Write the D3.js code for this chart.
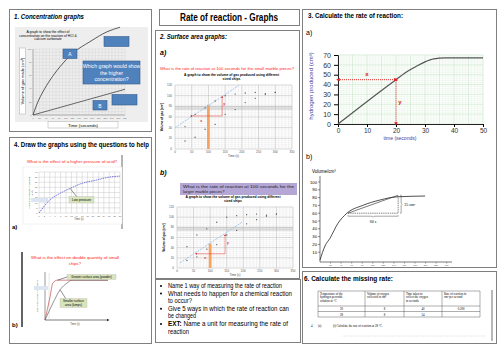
<!DOCTYPE html>
<html>
<head>
<meta charset="utf-8">
<script src="https://cdn.jsdelivr.net/npm/d3@7"></script>
<style>
  html, body { margin: 0; padding: 0; background: #fff; }
  svg { display: block; }
</style>
</head>
<body>
<div id="chart"></div>
<script>
const FONT = "'Liberation Sans', Arial, sans-serif";
const SERIF = "'Liberation Serif', 'Times New Roman', serif";

// 1. concentration graphs
const concTicksX = d3.range(0, 281, 20);
const concTicksY = [0, 20, 40, 60, 80, 100];
const concTimeA = [0, 15, 30, 52, 82, 122, 173, 225, 265];
const concVolA = [0, 20, 35, 53, 73, 94, 111, 126, 133];
const concTimeB = [0, 280];
const concVolB = [0, 39];

// 2. surface area graphs (same data on a and b)
const chipTicksX = [0, 50, 100, 150, 200, 250, 300, 350];
const chipTicksY = [0, 20, 40, 60, 80, 100, 120];
const chipTime = [30, 60, 90, 120, 150, 180, 210, 240, 270, 300];
const smallChips = [42, 65, 77, 90, 100, 103, 105, 106, 104, 106];
const largeChips = [15, 22, 37, 46, 65, 74, 87, 95, 102, 106];
const tangentA = [[0, 40], [193, 120]];
const tangentB = [[9, 10], [196, 90]];
const triA = [[48, 62], [141, 62], [141, 98]];
const triB = [[57, 28], [145, 28], [145, 65]];
const orangeA = 83;
const orangeB = 48;

// 3. rate of reaction
const rateTicksX = [0, 10, 20, 30, 40, 50];
const rateTicksY = [0, 10, 20, 30, 40, 50, 60, 70];
const rateTime = [0, 20, 24, 27, 30, 33, 37, 50];
const rateVol = [0, 45, 53.5, 58.5, 63, 66, 67, 67];
const rateX = 20, rateY = 45;

const volTicksY = [10, 20, 30, 40, 50, 60, 70, 80, 90, 100];
const volTicksX = d3.range(20, 241, 20);
const volTime = [0, 9.5, 19, 34, 51, 81, 114, 146, 199];
const volVol = [0, 18, 28, 47, 60, 70, 77, 81, 82];
const volTangent = [[53, 60], [148, 83]];

// 4. draw the graphs
const pressTicksX = d3.range(0, 31, 2);
const pressTicksY = d3.range(0, 41, 5);
const pressTime = [0, 4, 8, 11.5, 16, 21, 26, 30];
const pressVol = [0, 12.7, 19.5, 24, 29, 32, 35, 36];
const powderTime = [0, 1.6, 2.5, 4, 20];
const powderMass = [0, 4.8, 7.7, 8.3, 8.3];
const lumpsTime = [0, 2.5, 4.8, 7, 8.6, 20];
const lumpsMass = [0, 3.5, 6.3, 7.7, 8.3, 8.3];

// 6. table
const tableHead = [
  ['Temperature of the', 'hydrogen peroxide', 'solution in °C'],
  ['Volume of oxygen', 'collected in cm³'],
  ['Time taken to', 'collect the oxygen', 'in seconds'],
  ['Rate of reaction in', 'cm³ per second'],
];
const tableRows = [
  ['20', '8', '40', '0.200'],
  ['28', '8', '24', ''],
];

const bullets = [
  { t: 'Name 1 way of measuring the rate of reaction', len: 114, b: true },
  { t: 'What needs to happen for a chemical reaction', len: 124, b: true },
  { t: 'to occur?', len: 24 },
  { t: ' Give 5 ways in which the rate of reaction can', len: 121, b: true },
  { t: 'be changed', len: 28 },
  { t: 'Name a unit for measuring the rate of', len: 104, b: true, ext: true },
  { t: 'reaction', len: 21 },
];

const svg = d3.select('#chart').append('svg')
  .attr('width', 500).attr('height', 353)
  .style('font-family', FONT);

svg.append('rect').attr('width', 500).attr('height', 353).attr('fill', '#fff');

const defs = svg.append('defs');
defs.append('marker').attr('id', 'redArrow')
  .attr('viewBox', '0 0 6 6').attr('refX', 3).attr('refY', 3)
  .attr('markerWidth', 4).attr('markerHeight', 4).attr('orient', 'auto-start-reverse')
  .append('path').attr('d', 'M0,0L6,3L0,6Z').attr('fill', '#e02020');
defs.append('marker').attr('id', 'blackArrow')
  .attr('viewBox', '0 0 6 6').attr('refX', 3).attr('refY', 3)
  .attr('markerWidth', 5).attr('markerHeight', 5).attr('orient', 'auto')
  .append('path').attr('d', 'M0,0L6,3L0,6Z').attr('fill', '#222');

function box(g, x, y, w, h, o = {}) {
  return g.append('rect').attr('x', x).attr('y', y).attr('width', w).attr('height', h)
    .attr('fill', o.fill || '#fff')
    .attr('stroke', o.stroke || '#7f7f7f')
    .attr('stroke-width', o.sw == null ? 1 : o.sw);
}

function text(g, x, y, s, o = {}) {
  const t = g.append('text').attr('x', x).attr('y', y)
    .attr('font-size', o.size || 6)
    .attr('font-family', o.family || FONT)
    .attr('font-weight', o.weight || 'normal')
    .attr('font-style', o.italic ? 'italic' : 'normal')
    .attr('fill', o.fill || '#000')
    .attr('text-anchor', o.anchor || 'start')
    .text(s);
  if (o.len) t.attr('textLength', o.len).attr('lengthAdjust', 'spacingAndGlyphs');
  if (o.rotate) t.attr('transform', `rotate(${o.rotate},${x},${y})`);
  return t;
}

function grid(g, x, y, xs, ys, color, sw) {
  const [y0, y1] = y.range();
  const [x0, x1] = x.range();
  g.append('g').selectAll('line').data(xs).join('line')
    .attr('x1', d => x(d)).attr('x2', d => x(d))
    .attr('y1', y0).attr('y2', y1)
    .attr('stroke', color).attr('stroke-width', sw);
  g.append('g').selectAll('line').data(ys).join('line')
    .attr('x1', x0).attr('x2', x1)
    .attr('y1', d => y(d)).attr('y2', d => y(d))
    .attr('stroke', color).attr('stroke-width', sw);
}

// ---------- panel frames ----------
const frames = svg.append('g');
box(frames, 9.5, 9.5, 142, 122);
box(frames, 9.5, 137.5, 142, 206);
box(frames, 159.5, 9.5, 140, 16);
box(frames, 155.5, 30.5, 144, 248);
box(frames, 155.5, 279.5, 145, 63);
box(frames, 302.5, 9.5, 194, 258);
box(frames, 302.5, 271.5, 194, 72);

text(svg, 229, 21, 'Rate of reaction - Graphs', { size: 10, weight: 'bold', anchor: 'middle', len: 98 });

// ---------- 1. concentration ----------
const g1 = svg.append('g');
text(g1, 14, 19, '1. Concentration graphs', { size: 7, weight: 'bold', italic: true, len: 70 });

const c1x = d3.scaleLinear().domain([0, 280]).range([33, 125]);
const c1y = d3.scaleLinear().domain([0, 100]).range([115, 49]);

g1.append('rect').attr('x', 15).attr('y', 27).attr('width', 133).attr('height', 95).attr('fill', '#eeeeee');
grid(g1, c1x, c1y, d3.range(0, 281, 10), d3.range(0, 101, 5), '#d2d2d2', 0.4);
g1.append('line').attr('x1', c1x(0)).attr('x2', c1x(0)).attr('y1', c1y(0)).attr('y2', c1y(100)).attr('stroke', '#777').attr('stroke-width', 0.5);
g1.append('line').attr('x1', c1x(0)).attr('x2', c1x(280)).attr('y1', c1y(0)).attr('y2', c1y(0)).attr('stroke', '#777').attr('stroke-width', 0.5);
g1.append('g').selectAll('text').data(concTicksX).join('text')
  .attr('x', d => c1x(d)).attr('y', c1y(0) + 3.5).attr('text-anchor', 'middle')
  .attr('font-size', 2.2).attr('fill', '#666').text(d => d);
g1.append('g').selectAll('text').data(concTicksY).join('text')
  .attr('x', c1x(0) - 1.5).attr('y', d => c1y(d) + 0.8).attr('text-anchor', 'end')
  .attr('font-size', 2.2).attr('fill', '#666').text(d => d);

['A graph to show the effect of', 'concentration on the reaction of HCl &', 'calcium carbonate']
  .forEach((s, i) => text(g1, 48, 33 + i * 3.6, s, { size: 3.4, anchor: 'middle' }));

const line1 = d3.line().x(d => c1x(d[0])).y(d => c1y(d[1])).curve(d3.curveMonotoneX);
g1.append('path').datum(d3.zip(concTimeA, concVolA)).attr('d', line1)
  .attr('fill', 'none').attr('stroke', '#333').attr('stroke-width', 0.8);
g1.append('path').datum(d3.zip(concTimeB, concVolB)).attr('d', line1)
  .attr('fill', 'none').attr('stroke', '#444').attr('stroke-width', 0.8);

box(g1, 19.5, 48, 6, 66, { stroke: '#aaa', sw: 0.5 });
text(g1, 24, 81, 'Volume of gas made (cm³)', { size: 4, anchor: 'middle', rotate: -90 });
box(g1, 48, 121.5, 70, 6.5, { stroke: '#aaa', sw: 0.5 });
text(g1, 83, 126.8, 'Time (seconds)', { size: 4.4, anchor: 'middle' });

const blue = { fill: '#4f81bd', stroke: '#385d8a', sw: 0.6 };
box(g1, 63, 49, 14, 9.5, blue);
text(g1, 70, 56, 'A', { size: 5, fill: '#fff', anchor: 'middle' });
box(g1, 104, 36.5, 25, 10, blue);
box(g1, 83, 61, 57, 23, blue);
['Which graph would show', 'the higher', 'concentration?']
  .forEach((s, i) => text(g1, 111.5, 68 + i * 6.5, s, { size: 5.2, fill: '#fff', anchor: 'middle' }));
box(g1, 93, 100.5, 14, 9.5, blue);
text(g1, 100, 107.5, 'B', { size: 5, fill: '#fff', anchor: 'middle' });
box(g1, 112, 94.5, 25, 10.5, blue);

// ---------- 4. draw the graphs ----------
const g4 = svg.append('g');
text(g4, 14, 147, '4.  Draw the graphs using the questions to help', { size: 7, weight: 'bold', len: 135 });
text(g4, 72, 163, 'What is the effect of a higher pressure of acid?', { size: 4.2, fill: '#ff2020', anchor: 'middle', len: 90 });
g4.append('line').attr('x1', 122).attr('x2', 122).attr('y1', 155).attr('y2', 229).attr('stroke', '#444').attr('stroke-width', 0.8);

const c4x = d3.scaleLinear().domain([0, 30]).range([39, 120]);
const c4y = d3.scaleLinear().domain([0, 40]).range([213, 172]);
g4.append('rect').attr('x', 23).attr('y', 167).attr('width', 99).attr('height', 57)
  .attr('fill', '#fff').attr('stroke', '#e4e4e4').attr('stroke-width', 0.5);
grid(g4, c4x, c4y, pressTicksX, pressTicksY, '#bdbdbd', 0.4);
g4.append('g').selectAll('text').data(pressTicksX).join('text')
  .attr('x', d => c4x(d)).attr('y', c4y(0) + 3.5).attr('text-anchor', 'middle')
  .attr('font-size', 2.2).attr('fill', '#555').text(d => d);
g4.append('g').selectAll('text').data(pressTicksY).join('text')
  .attr('x', c4x(0) - 1.5).attr('y', d => c4y(d) + 0.8).attr('text-anchor', 'end')
  .attr('font-size', 2.2).attr('fill', '#555').text(d => d);
text(g4, 79, 220, 'Time (s)', { size: 2.6, anchor: 'middle', fill: '#444' });
text(g4, 30, 193, 'Amount of hydrogen produced', { size: 2.4, anchor: 'middle', rotate: -90, fill: '#444' });
text(g4, 33, 193, '(cm³)', { size: 2.4, anchor: 'middle', rotate: -90, fill: '#444' });
g4.append('rect').attr('x', 31).attr('y', 198).attr('width', 17).attr('height', 4).attr('fill', '#dce6f2');

const line4 = d3.line().x(d => c4x(d[0])).y(d => c4y(d[1])).curve(d3.curveMonotoneX);
g4.append('path').datum(d3.zip(pressTime, pressVol)).attr('d', line4)
  .attr('fill', 'none').attr('stroke', '#5a5ad0').attr('stroke-width', 0.8).attr('stroke-dasharray', '1.6,0.8');
g4.append('line').attr('x1', c4x(pressTime[3])).attr('y1', c4y(pressVol[3]))
  .attr('x2', 77).attr('y2', 197).attr('stroke', '#222').attr('stroke-width', 0.5);
box(g4, 69, 196.5, 25, 6.5, { fill: '#d8e4bc', stroke: '#b0b0b0', sw: 0.3 });
text(g4, 81.5, 201, 'Low pressure', { size: 3.2, anchor: 'middle' });
text(g4, 12, 229, 'a)', { size: 6, weight: 'bold' });

// b)
g4.append('line').attr('x1', 22).attr('x2', 22).attr('y1', 252).attr('y2', 327).attr('stroke', '#222').attr('stroke-width', 1.4);
text(g4, 75, 259, 'What is the effect on double quantity of small', { size: 4.2, fill: '#ff2020', anchor: 'middle', len: 88 });
text(g4, 75, 264.5, 'chips?', { size: 4.2, fill: '#ff2020', anchor: 'middle' });

const c4bx = d3.scaleLinear().domain([0, 20]).range([45, 108]);
const c4by = d3.scaleLinear().domain([0, 10]).range([320, 272]);
g4.append('line').attr('x1', c4bx(0)).attr('x2', c4bx(0)).attr('y1', c4by(0)).attr('y2', c4by(10))
  .attr('stroke', '#555').attr('stroke-width', 0.6);
g4.append('line').attr('x1', c4bx(0)).attr('x2', c4bx(20)).attr('y1', c4by(0)).attr('y2', c4by(0))
  .attr('stroke', '#222').attr('stroke-width', 0.6).attr('marker-end', 'url(#blackArrow)');
g4.append('line').attr('x1', c4bx(1.3)).attr('x2', c4bx(1.3)).attr('y1', c4by(0)).attr('y2', c4by(9.8))
  .attr('stroke', '#ccc').attr('stroke-width', 0.5);
const line4b = d3.line().x(d => c4bx(d[0])).y(d => c4by(d[1])).curve(d3.curveMonotoneX);
g4.append('path').datum(d3.zip(powderTime, powderMass)).attr('d', line4b)
  .attr('fill', 'none').attr('stroke', '#c0504d').attr('stroke-width', 0.7);
g4.append('path').datum(d3.zip(lumpsTime, lumpsMass)).attr('d', line4b)
  .attr('fill', 'none').attr('stroke', '#666').attr('stroke-width', 0.7);
text(g4, 38, 296, 'Total mass of gas produced (g)', { size: 2.4, anchor: 'middle', rotate: -90, fill: '#666' });
g4.append('rect').attr('x', 34).attr('y', 286).attr('width', 14).attr('height', 4).attr('fill', '#dce6f2');
g4.append('line').attr('x1', c4bx(powderTime[3])).attr('y1', c4by(powderMass[3]))
  .attr('x2', 67).attr('y2', 277).attr('stroke', '#222').attr('stroke-width', 0.5);
box(g4, 67, 274.5, 49, 5, { fill: '#d8e4bc', stroke: '#b0b0b0', sw: 0.3 });
text(g4, 91.5, 278.3, 'Greater surface area (powder)', { size: 3, anchor: 'middle' });
g4.append('line').attr('x1', c4bx(lumpsTime[2])).attr('y1', c4by(lumpsMass[2]))
  .attr('x2', 66).attr('y2', 299).attr('stroke', '#222').attr('stroke-width', 0.5);
box(g4, 60, 298.5, 27, 9, { fill: '#d8e4bc', stroke: '#b0b0b0', sw: 0.3 });
text(g4, 73.5, 302.3, 'Smaller surface', { size: 3, anchor: 'middle' });
text(g4, 73.5, 306.3, 'area (lumps)', { size: 3, anchor: 'middle' });
text(g4, 75, 325, 'Time (s)', { size: 2.6, anchor: 'middle', fill: '#444' });
text(g4, 12, 327, 'b)', { size: 6, weight: 'bold' });

// ---------- 2. surface area ----------
const g2 = svg.append('g');
text(g2, 160, 39, '2. Surface area graphs:', { size: 7, weight: 'bold', italic: true, len: 67 });
text(g2, 160, 55, 'a)', { size: 7, weight: 'bold', italic: true });
text(g2, 160, 175, 'b)', { size: 7, weight: 'bold', italic: true });
text(g2, 227, 70, 'What is the rate of reaction at 100 seconds  for the small marble pieces?',
  { size: 4.3, fill: '#ff2020', anchor: 'middle', len: 134 });

function chipChart(g, xr, yr, tangent, tri, orange, titleY, marks) {
  const x = d3.scaleLinear().domain([0, 350]).range(xr);
  const y = d3.scaleLinear().domain([0, 120]).range(yr);
  grid(g, x, y, d3.range(0, 351, 10), d3.range(0, 121, 4), '#e2e2e2', 0.35);
  grid(g, x, y, chipTicksX, chipTicksY, '#b8b8b8', 0.45);
  g.append('g').selectAll('line').data([74, 76, 78, 80]).join('line')
    .attr('x1', x(0)).attr('x2', x(350)).attr('y1', d => y(d)).attr('y2', d => y(d))
    .attr('stroke', '#b0b0b0').attr('stroke-width', 0.4);
  g.append('g').selectAll('text').data(chipTicksX).join('text')
    .attr('x', d => x(d)).attr('y', y(0) + 4).attr('text-anchor', 'middle')
    .attr('font-size', 3).attr('fill', '#555').text(d => d);
  g.append('g').selectAll('text').data(chipTicksY).join('text')
    .attr('x', x(0) - 3).attr('y', d => y(d) + 1).attr('text-anchor', 'end')
    .attr('font-size', 3).attr('fill', '#555').text(d => d);
  text(g, (xr[0] + xr[1]) / 2, y(0) + 8, 'Time (s)', { size: 3, anchor: 'middle', fill: '#444' });
  text(g, xr[0] - 12, (yr[0] + yr[1]) / 2, 'Volume of gas (cm³)', { size: 3, anchor: 'middle', rotate: -90, weight: 'bold' });
  text(g, (xr[0] + xr[1]) / 2 - 2, titleY, 'A graph to show the volume of gas produced using different', { size: 3.3, anchor: 'middle', weight: 'bold', len: 95 });
  text(g, (xr[0] + xr[1]) / 2 - 2, titleY + 4.2, 'sized chips', { size: 3.3, anchor: 'middle', weight: 'bold' });

  g.append('rect').attr('x', x(100) - 1.4).attr('y', y(orange)).attr('width', 2.8)
    .attr('height', y(0) - y(orange)).attr('fill', '#f4a460');
  g.append('line').attr('x1', x(tangent[0][0])).attr('y1', y(tangent[0][1]))
    .attr('x2', x(tangent[1][0])).attr('y2', y(tangent[1][1]))
    .attr('stroke', '#9dc3e6').attr('stroke-width', 0.9).attr('stroke-dasharray', '2,1');
  g.append('path').attr('d', d3.line().x(d => x(d[0])).y(d => y(d[1]))(tri))
    .attr('fill', 'none').attr('stroke', '#e83030').attr('stroke-width', 0.5)
    .attr('marker-start', 'url(#redArrow)').attr('marker-end', 'url(#redArrow)');
  [smallChips, largeChips].forEach(s => {
    g.append('g').selectAll('circle').data(d3.zip(chipTime, s)).join('circle')
      .attr('cx', d => x(d[0])).attr('cy', d => y(d[1])).attr('r', 0.65).attr('fill', '#555');
  });
  g.append('g').selectAll('text').data(marks).join('text')
    .attr('x', d => x(d[0])).attr('y', d => y(d[1])).attr('text-anchor', 'middle')
    .attr('font-size', 3.4).attr('font-weight', 'bold').attr('fill', '#e02020').text(d => d[2]);
}

chipChart(g2, [175, 292], [149, 85], tangentA, triA, orangeA, 75.5, [[78, 50, 'x'], [147, 82, 'y']]);
chipChart(g2, [177, 293], [268, 207], tangentB, triB, orangeB, 198, [[85, 18, 'x'], [154, 47, 'y']]);
box(g2, 180, 183, 117, 12, { fill: '#b4a7d6', stroke: 'none', sw: 0 });
text(g2, 183, 188, 'What is the rate of reaction at 100 seconds for the', { size: 4.3, len: 111, fill: '#222' });
text(g2, 183, 193.2, 'larger marble pieces?', { size: 4.3, fill: '#222' });

// bullet list
const gb = svg.append('g');
bullets.forEach((b, i) => {
  const y = 288 + i * 7.6;
  if (b.b) gb.append('circle').attr('cx', 161).attr('cy', y - 2).attr('r', 1).attr('fill', '#000');
  const t = gb.append('text').attr('x', 168).attr('y', y).attr('font-size', 7);
  if (b.ext) {
    t.append('tspan').attr('font-weight', 'bold').text('EXT: ');
    t.append('tspan').text(b.t);
    t.attr('textLength', 120).attr('lengthAdjust', 'spacingAndGlyphs');
  } else {
    t.text(b.t).attr('textLength', b.len).attr('lengthAdjust', 'spacingAndGlyphs');
  }
});

// ---------- 3. rate of reaction ----------
const g3 = svg.append('g');
text(g3, 308, 18, '3. Calculate the rate of reaction:', { size: 7, weight: 'bold', len: 95 });
text(g3, 306, 35, 'a)', { size: 7 });
text(g3, 306, 159, 'b)', { size: 7 });

const c3x = d3.scaleLinear().domain([0, 50]).range([338, 483]);
const c3y = d3.scaleLinear().domain([0, 70]).range([124, 55]);
grid(g3, c3x, c3y, d3.range(0, 51, 1), d3.range(0, 71, 2), '#e4f3e4', 0.5);
grid(g3, c3x, c3y, d3.range(0, 51, 5), d3.range(0, 71, 10), '#c9e7c9', 0.5);
g3.append('g').attr('transform', `translate(0,${c3y(0)})`)
  .call(d3.axisBottom(c3x).tickValues(rateTicksX).tickSize(3).tickPadding(1))
  .call(a => a.select('.domain').attr('stroke', '#222'))
  .call(a => a.selectAll('text').attr('font-size', 6.5).attr('font-family', FONT).attr('fill', '#333'));
g3.append('g').attr('transform', `translate(${c3x(0)},0)`)
  .call(d3.axisLeft(c3y).tickValues(rateTicksY).tickSize(4))
  .call(a => a.select('.domain').attr('stroke', '#222'))
  .call(a => a.selectAll('text').attr('font-size', 7).attr('font-family', FONT).attr('fill', '#333'));
text(g3, 400, 140, 'time (seconds)', { size: 5, anchor: 'middle', fill: '#4040a0' });
text(g3, 313, 86, 'hydrogen produced (cm³)', { size: 6, anchor: 'middle', rotate: -90, fill: '#4040a0' });

const line3 = d3.line().x(d => c3x(d[0])).y(d => c3y(d[1])).curve(d3.curveMonotoneX);
g3.append('path').datum(d3.zip(rateTime, rateVol)).attr('d', line3)
  .attr('fill', 'none').attr('stroke', '#555').attr('stroke-width', 1.2);
g3.append('line').attr('x1', c3x(0)).attr('x2', c3x(rateX)).attr('y1', c3y(rateY)).attr('y2', c3y(rateY))
  .attr('stroke', '#e02020').attr('stroke-width', 0.9).attr('stroke-dasharray', '1,1')
  .attr('marker-start', 'url(#redArrow)').attr('marker-end', 'url(#redArrow)');
g3.append('line').attr('x1', c3x(rateX)).attr('x2', c3x(rateX)).attr('y1', c3y(rateY)).attr('y2', c3y(0))
  .attr('stroke', '#e02020').attr('stroke-width', 0.9).attr('stroke-dasharray', '1,1')
  .attr('marker-start', 'url(#redArrow)').attr('marker-end', 'url(#redArrow)');
text(g3, c3x(rateX / 2), c3y(rateY) - 4, 'x', { size: 6, fill: '#e02020', anchor: 'middle', weight: 'bold' });
text(g3, c3x(rateX) + 4, c3y(rateY / 2) + 2, 'y', { size: 6, fill: '#e02020', anchor: 'middle', weight: 'bold' });

// b)
const c3bx = d3.scaleLinear().domain([0, 250]).range([320, 452]);
const c3by = d3.scaleLinear().domain([0, 100]).range([260, 182]);
text(g3, 312, 173, 'Volume/cm³', { size: 4.5 });
g3.append('line').attr('x1', c3bx(0)).attr('x2', c3bx(0)).attr('y1', 262).attr('y2', 176).attr('stroke', '#222').attr('stroke-width', 0.6);
g3.append('line').attr('x1', c3bx(0)).attr('x2', c3bx(250)).attr('y1', 262).attr('y2', 262).attr('stroke', '#222').attr('stroke-width', 0.6);
g3.append('g').selectAll('line').data(volTicksY).join('line')
  .attr('x1', c3bx(0) - 2).attr('x2', c3bx(0)).attr('y1', d => c3by(d)).attr('y2', d => c3by(d))
  .attr('stroke', '#222').attr('stroke-width', 0.5);
g3.append('g').selectAll('text').data(volTicksY).join('text')
  .attr('x', c3bx(0) - 3).attr('y', d => c3by(d) + 1.5).attr('text-anchor', 'end')
  .attr('font-size', 4.2).text(d => d);
g3.append('g').selectAll('line').data(volTicksX).join('line')
  .attr('x1', d => c3bx(d)).attr('x2', d => c3bx(d)).attr('y1', 262).attr('y2', 263.5)
  .attr('stroke', '#222').attr('stroke-width', 0.4);
g3.append('g').selectAll('text').data(volTicksX).join('text')
  .attr('x', d => c3bx(d)).attr('y', 266).attr('text-anchor', 'middle')
  .attr('font-size', 2.2).attr('fill', '#444').text(d => d);
const line3b = d3.line().x(d => c3bx(d[0])).y(d => c3by(d[1])).curve(d3.curveMonotoneX);
g3.append('path').datum(d3.zip(volTime, volVol)).attr('d', line3b)
  .attr('fill', 'none').attr('stroke', '#222').attr('stroke-width', 0.8);
g3.append('line').attr('x1', c3bx(volTangent[0][0])).attr('y1', c3by(volTangent[0][1]))
  .attr('x2', c3bx(volTangent[1][0])).attr('y2', c3by(volTangent[1][1]))
  .attr('stroke', '#222').attr('stroke-width', 0.6);
g3.append('path')
  .attr('d', d3.line()([[c3bx(volTangent[0][0]), c3by(volTangent[0][1])],
    [c3bx(volTangent[1][0]), c3by(volTangent[0][1])],
    [c3bx(volTangent[1][0]), c3by(volTangent[1][1])]]))
  .attr('fill', 'none').attr('stroke', '#333').attr('stroke-width', 0.6).attr('stroke-dasharray', '1.4,0.8');
// braces
const bx = c3bx(volTangent[1][0]) + 3;
g3.append('path')
  .attr('d', `M${bx - 1},${c3by(volTangent[1][1])} h1 v${(c3by(volTangent[0][1]) - c3by(volTangent[1][1])) / 2 - 1} l1,1 l-1,1 V${c3by(volTangent[0][1])} h-1`)
  .attr('fill', 'none').attr('stroke', '#222').attr('stroke-width', 0.4);
text(g3, bx + 3, (c3by(volTangent[0][1]) + c3by(volTangent[1][1])) / 2 + 1.5, '25 cm³', { size: 4, family: SERIF });
const by = c3by(volTangent[0][1]) + 3;
const bxa = c3bx(volTangent[0][0]), bxb = c3bx(volTangent[1][0]);
g3.append('path')
  .attr('d', `M${bxa},${by - 1} v1 H${(bxa + bxb) / 2 - 1} l1,1 l1,-1 H${bxb} v-1`)
  .attr('fill', 'none').attr('stroke', '#222').attr('stroke-width', 0.4);
text(g3, (bxa + bxb) / 2, by + 7, '60 s', { size: 4, family: SERIF, anchor: 'middle' });

// ---------- 6. table ----------
const g6 = svg.append('g');
text(g6, 304, 281, '6. Calculate the missing rate:', { size: 7, weight: 'bold', len: 89 });
g6.append('line').attr('x1', 492).attr('x2', 492).attr('y1', 290).attr('y2', 341).attr('stroke', '#888').attr('stroke-width', 1.2);
const colX = [318, 365, 404, 442, 480];
const rowY = [291, 306, 311.5, 317];
const gt = g6.append('g').attr('stroke', '#333').attr('stroke-width', 0.4);
colX.forEach(x => gt.append('line').attr('x1', x).attr('x2', x).attr('y1', rowY[0]).attr('y2', rowY[3]));
rowY.forEach(y => gt.append('line').attr('x1', colX[0]).attr('x2', colX[4]).attr('y1', y).attr('y2', y));
tableHead.forEach((lines, c) => lines.forEach((s, i) =>
  text(g6, colX[c] + 2, 295 + i * 3.4, s, { size: 3, family: SERIF })));
tableRows.forEach((row, r) => row.forEach((s, c) =>
  text(g6, (colX[c] + colX[c + 1]) / 2, rowY[r + 1] + 4, s, { size: 3, family: SERIF, anchor: 'middle' })));
text(g6, 311, 327, '4', { size: 3, family: SERIF });
text(g6, 318, 327, '(a)', { size: 3, family: SERIF });
text(g6, 333, 327, '(i)     Calculate the rate of reaction at 28 °C.', { size: 3, family: SERIF });
g6.append('line').attr('x1', 343).attr('x2', 486).attr('y1', 336).attr('y2', 336)
  .attr('stroke', '#aaa').attr('stroke-width', 0.4).attr('stroke-dasharray', '0.6,0.6');
</script>
</body>
</html>
